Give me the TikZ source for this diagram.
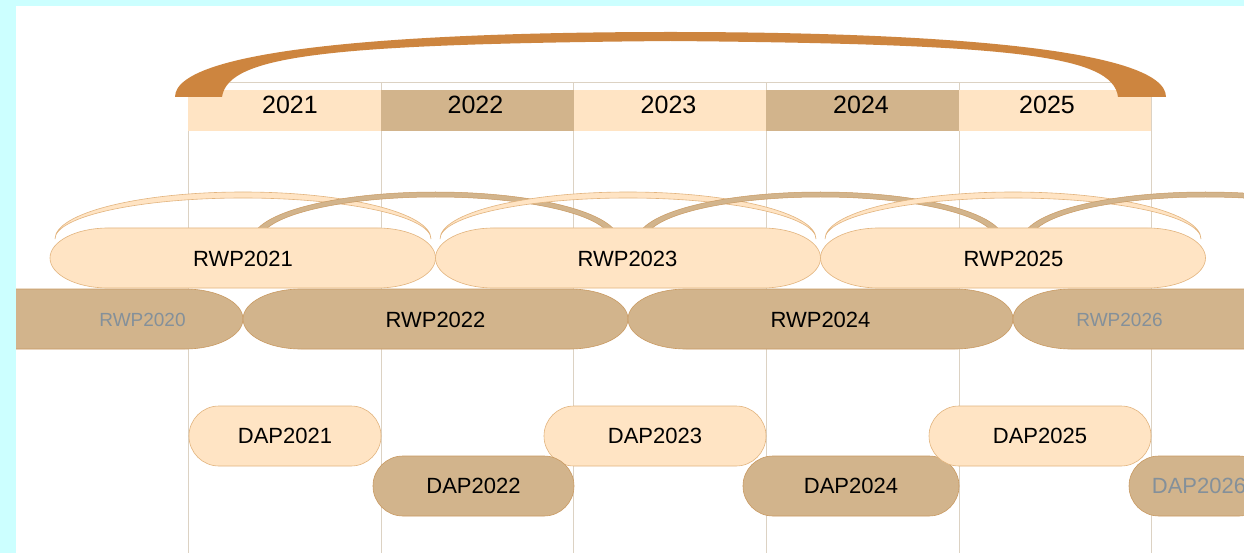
\documentclass[tikz,border=0pt]{standalone}
\usepackage{fontspec}
\setmainfont{Liberation Sans}
\usetikzlibrary{shapes.misc}
\definecolor{bisq}{HTML}{FFE4C4}
\definecolor{tanc}{HTML}{D2B48C}
\definecolor{peruc}{HTML}{CD853F}
\definecolor{bgcyan}{HTML}{CCFFFF}
\definecolor{gridc}{HTML}{DCD2C3}
\definecolor{graytxt}{HTML}{84909A}
\definecolor{lineL}{HTML}{E2B47E}
\definecolor{lineD}{HTML}{C99A62}
\newcommand\rwpblob[4]{%
  \path[#4] (#1+58,#3) -- (#2-58,#3)
    arc[start angle=270,end angle=450,x radius=58,y radius=30]
    -- (#1+58,#3+60)
    arc[start angle=90,end angle=270,x radius=58,y radius=30] -- cycle;}
\newcommand\lightarc[1]{%
  \filldraw[fill=bisq,draw=lineL,line width=0.6pt] (#1-188,239)
    arc[start angle=180,end angle=360,x radius=188,y radius=47]
    arc[start angle=0,end angle=-180,x radius=188,y radius=41] -- cycle;}
\newcommand\darkarc[1]{%
  \filldraw[fill=tanc,draw=lineD,line width=0.5pt] (#1-183,240)
    arc[start angle=180,end angle=360,x radius=183,y radius=48]
    -- (#1+175,240)
    arc[start angle=0,end angle=-180,x radius=175,y radius=43] -- cycle;}
\begin{document}
\begin{tikzpicture}[x=1pt,y=-1pt,
  gridline/.style={draw=gridc,line width=1pt},
  yeartxt/.style={anchor=base,inner sep=0pt,font=\fontsize{25}{30}\selectfont},
  lbl/.style={inner sep=0pt,font=\fontsize{22}{26}\selectfont,text=black},
  glbl/.style={inner sep=0pt,font=\fontsize{19}{23}\selectfont,text=graytxt},
  lightblob/.style={fill=bisq,draw=lineL,line width=0.6pt},
  darkblob/.style={fill=tanc,draw=lineD,line width=0.6pt},
  dapL/.style={rounded rectangle,minimum height=60pt,inner sep=0pt,fill=bisq,draw=lineL,line width=0.6pt,font=\fontsize{22}{26}\selectfont},
  dapD/.style={rounded rectangle,minimum height=60pt,inner sep=0pt,fill=tanc,draw=lineD,line width=0.6pt,font=\fontsize{22}{26}\selectfont}]
\useasboundingbox (0,0) rectangle (1244,553);
\fill[bgcyan] (0,0) rectangle (1244,553);
\fill[white] (16,6) rectangle (1244,553);
\begin{scope}
\clip (16,6) rectangle (1244,553);
% grid
\draw[gridline] (188,83) -- (1151,83);
\foreach \gx in {188,381,573.5,766,959,1151} \draw[gridline] (\gx,83) -- (\gx,553);
% year bands
\fill[bisq] (188,90) rectangle (381,131);
\fill[tanc] (381,90) rectangle (573.5,131);
\fill[bisq] (573.5,90) rectangle (766,131);
\fill[tanc] (766,90) rectangle (959,131);
\fill[bisq] (959,90) rectangle (1151,131);
\node[yeartxt] (y2021) at (290,114) {2021};
\node[yeartxt] (y2022) at (475.5,114) {2022};
\node[yeartxt] (y2023) at (668.5,114) {2023};
\node[yeartxt] (y2024) at (861,114) {2024};
\node[yeartxt] (y2025) at (1047,114) {2025};
% big orange arc
\fill[peruc] (175,97) .. controls (175,47) and (420,32) .. (670.5,32)
  .. controls (921,32) and (1166,47) .. (1166,97) -- (1118,97)
  .. controls (1113,55) and (1011,44) .. (670.5,41)
  .. controls (330,44) and (228,55) .. (222,97) -- cycle;
% arcs over RWP
\lightarc{243}
\darkarc{435.5}
\lightarc{628}
\darkarc{820.5}
\lightarc{1013}
\darkarc{1205.5}
% dark row
\rwpblob{-142}{243}{289}{darkblob}
\rwpblob{243}{628}{289}{darkblob}
\rwpblob{628}{1013}{289}{darkblob}
\rwpblob{1013}{1398}{289}{darkblob}
% light row
\rwpblob{50}{435.5}{228}{lightblob}
\rwpblob{435.5}{820.5}{228}{lightblob}
\rwpblob{820.5}{1205.5}{228}{lightblob}
\node[lbl] (rwp2021) at (243,259) {RWP2021};
\node[lbl] (rwp2023) at (627.5,259) {RWP2023};
\node[lbl] (rwp2025) at (1013.5,259) {RWP2025};
\node[glbl] (rwp2020) at (142.5,320) {RWP2020};
\node[lbl] (rwp2022) at (435.5,320) {RWP2022};
\node[lbl] (rwp2024) at (820.5,320) {RWP2024};
\node[glbl] (rwp2026) at (1119.5,320) {RWP2026};
% DAP
\node[dapL,minimum width=192pt] (dap2021) at (285,436) {DAP2021};
\node[dapL,minimum width=222pt] (dap2023) at (655,436) {DAP2023};
\node[dapD,minimum width=201pt] (dap2022) at (473.5,486) {DAP2022};
\node[dapD,minimum width=216pt] (dap2024) at (851,486) {DAP2024};
\node[dapL,minimum width=222pt] (dap2025) at (1040,436) {DAP2025};
\node[dapD,minimum width=140pt,text=graytxt] (dap2026) at (1199,486) {DAP2026};
\end{scope}
\end{tikzpicture}
\end{document}
